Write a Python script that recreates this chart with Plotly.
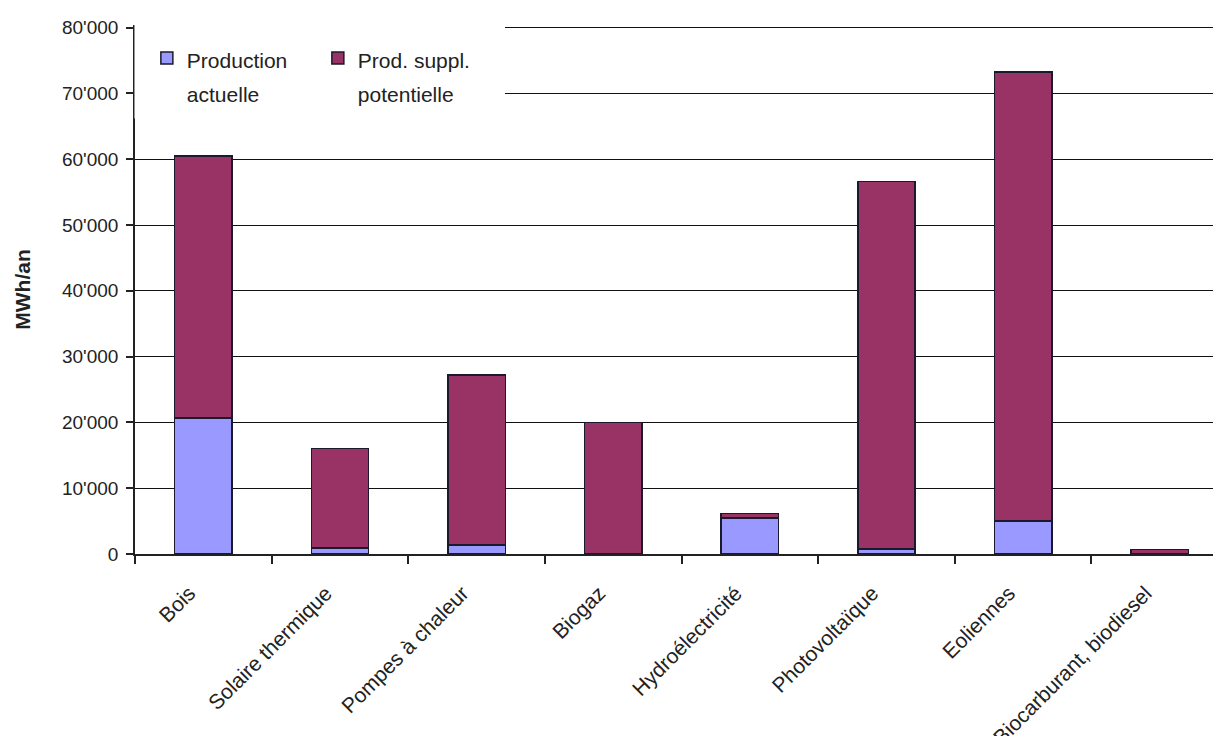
import plotly.graph_objects as go

categories = ["Bois", "Solaire thermique", "Pompes à chaleur", "Biogaz",
              "Hydroélectricité", "Photovoltaïque", "Eoliennes",
              "Biocarburant, biodiesel"]
production_actuelle = [20700, 900, 1350, 0, 5450, 750, 5000, 0]
prod_suppl_potentielle = [39800, 15100, 25850, 19950, 700, 55900, 68250, 700]
y_ticks = [0, 10000, 20000, 30000, 40000, 50000, 60000, 70000, 80000]
y_tick_labels = ["0", "10'000", "20'000", "30'000", "40'000", "50'000",
                 "60'000", "70'000", "80'000"]

FONT = "Liberation Sans, Arial, sans-serif"
EDGE = dict(color="#1a1a2e", width=1.5)


def legend_label(*lines):
    # two-line legend entry with roomier line spacing than the base font gives
    return "<br>".join(f"<span style='font-size:21px'>{t}</span>" for t in lines)


fig = go.Figure()
fig.add_trace(go.Bar(
    x=categories, y=production_actuelle,
    name=legend_label("Production", "actuelle"),
    marker=dict(color="#9999FF", line=EDGE), width=0.42,
))
fig.add_trace(go.Bar(
    x=categories, y=prod_suppl_potentielle,
    name=legend_label("Prod. suppl.", "potentielle"),
    marker=dict(color="#993366", line=EDGE), width=0.42,
))

# white box behind the legend, hiding the upper gridlines and axis line
fig.add_shape(type="rect", xref="paper", yref="paper",
              x0=-0.0005, x1=0.3432, y0=0.8233, y1=1.03,
              fillcolor="white", line=dict(width=0), layer="above")

fig.update_layout(
    barmode="stack",
    width=1213, height=736,
    margin=dict(l=135, r=0, t=25, b=182, autoexpand=False),
    paper_bgcolor="white", plot_bgcolor="white",
    font=dict(family=FONT, size=19, color="#222222"),
    showlegend=True,
    legend=dict(
        orientation="h", x=0.011, xanchor="left", y=0.982, yanchor="top",
        bgcolor="rgba(0,0,0,0)", font=dict(size=26, color="#222222"),
        valign="top", entrywidth=126, entrywidthmode="pixels",
        traceorder="normal",
    ),
    xaxis=dict(
        type="category", range=[-0.5, 7.39], automargin=False,
        showline=True, linecolor="#222222", linewidth=1.5,
        ticks="outside", ticklen=8, tickcolor="#222222", tickwidth=1.5,
        tickson="boundaries", tickangle=-45,
        ticklabelstandoff=17, ticklabelshift=-14,
        tickfont=dict(size=21, color="#222222"),
        showgrid=False,
    ),
    yaxis=dict(
        range=[0, 80400], tickvals=y_ticks, ticktext=y_tick_labels,
        automargin=False,
        showline=True, linecolor="#222222", linewidth=1.5,
        ticks="outside", ticklen=7, tickcolor="#222222", tickwidth=1.5,
        ticklabelstandoff=4,
        showgrid=True, gridcolor="#111111", gridwidth=1.2,
        zeroline=False,
        tickfont=dict(size=19, color="#222222"),
        title=dict(text="<b>MWh/an</b>", font=dict(size=21, color="#222222"),
                   standoff=26),
    ),
)

fig.write_html("out.html")
